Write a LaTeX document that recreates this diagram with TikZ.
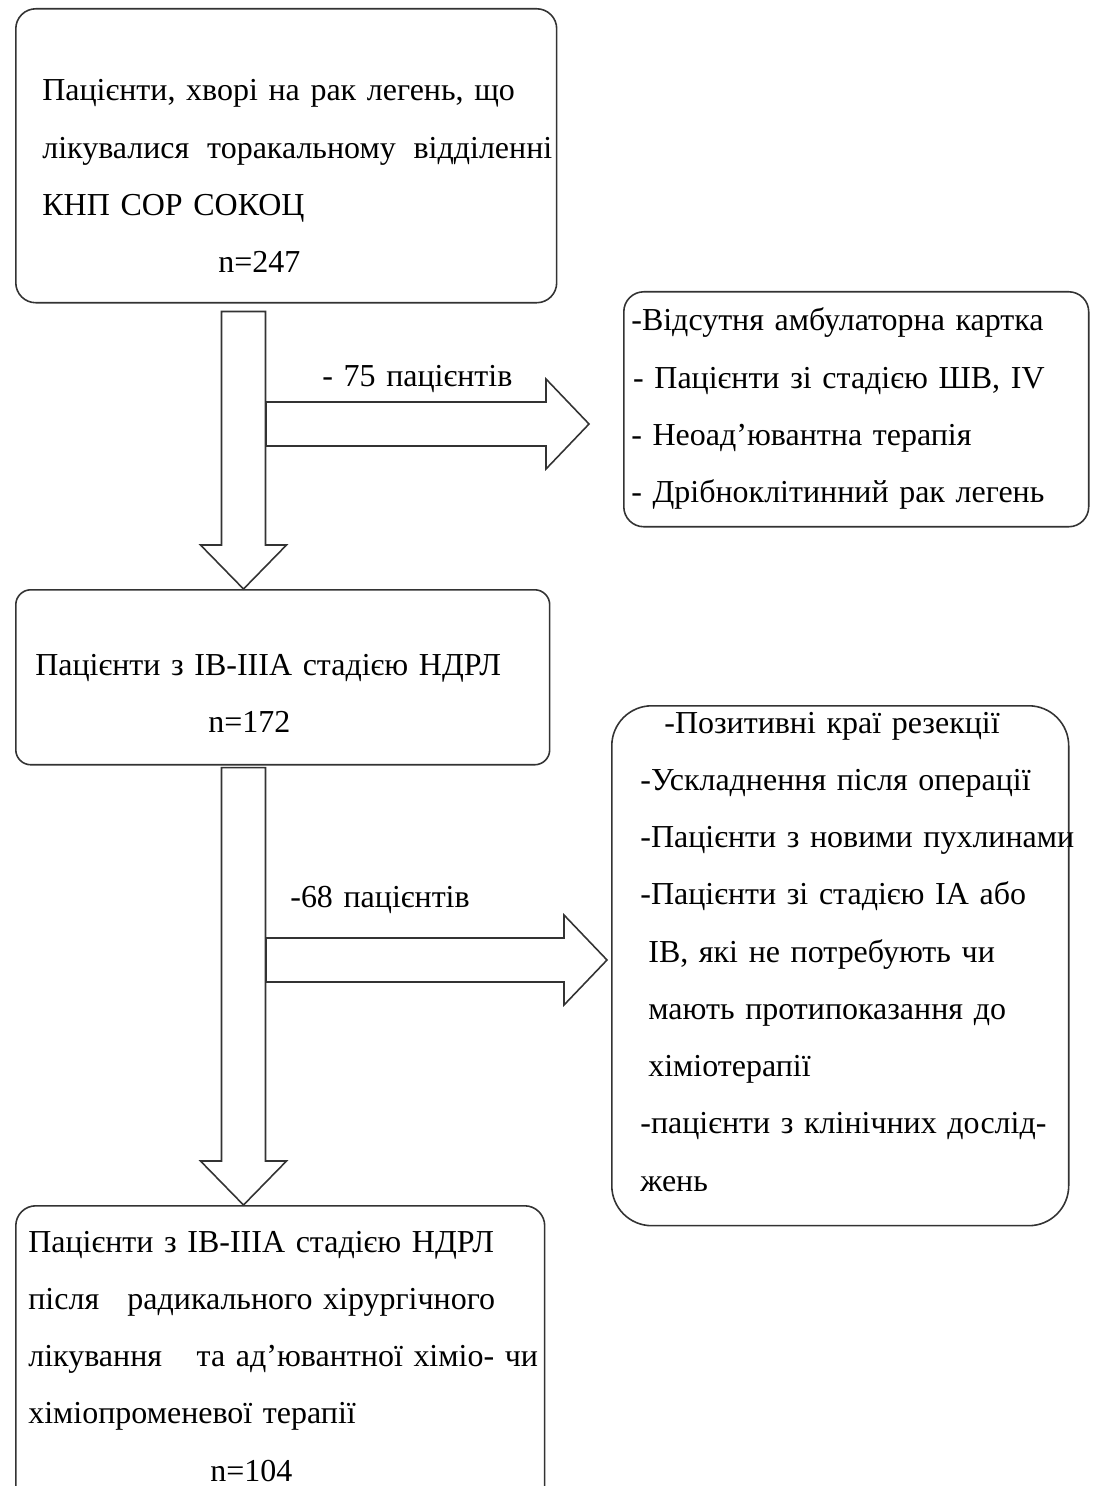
\documentclass[tikz,border=0pt]{standalone}
\usepackage{fontspec}
\setmainfont[WordSpace=0.9]{Liberation Serif}
\usetikzlibrary{calc}

\tikzset{
    box/.style={draw=black!80, line width=0.9pt, anchor=north west},
    txt/.style={anchor=base west, inner sep=0pt, text width=12cm, align=left,
        font=\fontsize{18.2}{32.6}\selectfont},
    blockarr/.style={draw=black!80, line width=0.9pt, fill=white},
}

\begin{document}
\begin{tikzpicture}[x=0.02cm, y=-0.02cm]
    \useasboundingbox (0,0) rectangle (1093,1486);

    % boxes
    \node[box, rounded corners=0.4cm, minimum width=10.82cm, minimum height=5.88cm] (b1) at (15,8) {};
    \node[box, rounded corners=0.4cm, minimum width=9.3cm, minimum height=4.7cm] (b2) at (623,291) {};
    \node[box, rounded corners=0.3cm, minimum width=10.68cm, minimum height=3.5cm] (b3) at (15,589) {};
    \node[box, rounded corners=0.8cm, minimum width=9.14cm, minimum height=10.4cm] (b4) at (611,705) {};
    \node[box, rounded corners=0.4cm, minimum width=10.58cm, minimum height=6.2cm] (b5) at (15,1205) {};

    % texts
    \node[txt] (t1) at (42,101) {Пацієнти, хворі на рак легень, що\\
        \leavevmode\hbox to 10.2cm{лікувалися\hfill торакальному\hfill відділенні}\\
        КНП СОР СОКОЦ\\
        \hspace*{3.52cm}n=247};
    \node[txt] (t2) at (631,331) {-Відсутня амбулаторна картка\\
        \hspace*{1pt}- Пацієнти зі стадією ШВ, IV\\
        - Неоад’ювантна терапія\\
        - Дрібноклітинний рак легень};
    \node[txt] (t3) at (35,675) {Пацієнти з ІВ-ІІІА стадією НДРЛ\\
        \hspace*{3.46cm}n=172};
    \node[txt] (t4) at (640,733) {\hspace*{0.48cm}-Позитивні краї резекції\\
        -Ускладнення після операції\\
        -Пацієнти з новими пухлинами\\
        -Пацієнти зі стадією ІА або\\
        \hspace*{0.16cm}ІВ, які не потребують чи\\
        \hspace*{0.16cm}мають протипоказання до\\
        \hspace*{0.16cm}хіміотерапії\\
        -пацієнти з клінічних дослід-\\
        жень};
    \node[txt] (t5) at (28,1252) {Пацієнти з ІВ-ІІІА стадією НДРЛ\\
        після\hspace{0.55em} радикального хірургічного\\
        лікування\hspace{0.75em} та ад’ювантної хіміо- чи\\
        хіміопроменевої терапії\\
        \hspace*{3.64cm}n=104};

    % block arrows
    \coordinate (d1s) at (b1.south -| 243.5,0);
    \coordinate (d1e) at (b3.north -| 243.5,0);
    \coordinate (d2s) at (b3.south -| 243.5,0);
    \coordinate (d2e) at (b5.north -| 243.5,0);
    \coordinate (r1s) at (266,424);
    \coordinate (r1e) at ([xshift=-0.68cm]b2.west |- r1s);
    \coordinate (r2s) at (266,960);
    \coordinate (r2e) at ([xshift=-0.08cm]b4.west |- r2s);

    \foreach \s/\e/\g in {d1s/d1e/0.16cm, d2s/d2e/0.04cm} {
        \draw[blockarr] let \p1=(\s), \p2=(\e) in
            (\x1-0.44cm,\y1-\g) -- (\x1+0.44cm,\y1-\g) -- (\x1+0.44cm,\y2+0.88cm)
            -- (\x1+0.86cm,\y2+0.88cm) -- (\x2,\y2) -- (\x1-0.86cm,\y2+0.88cm)
            -- (\x1-0.44cm,\y2+0.88cm) -- cycle;
    }
    \foreach \s/\e in {r1s/r1e, r2s/r2e} {
        \draw[blockarr] let \p1=(\s), \p2=(\e) in
            (\x1,\y1+0.44cm) -- (\x2-0.86cm,\y1+0.44cm) -- (\x2-0.86cm,\y1+0.9cm)
            -- (\x2,\y1) -- (\x2-0.86cm,\y1-0.9cm) -- (\x2-0.86cm,\y1-0.44cm)
            -- (\x1,\y1-0.44cm) -- cycle;
    }

    % labels on arrows
    \node[txt] (l1) at (322,387) {- 75 пацієнтів};
    \node[txt] (l2) at (290,907) {-68 пацієнтів};
\end{tikzpicture}
\end{document}
